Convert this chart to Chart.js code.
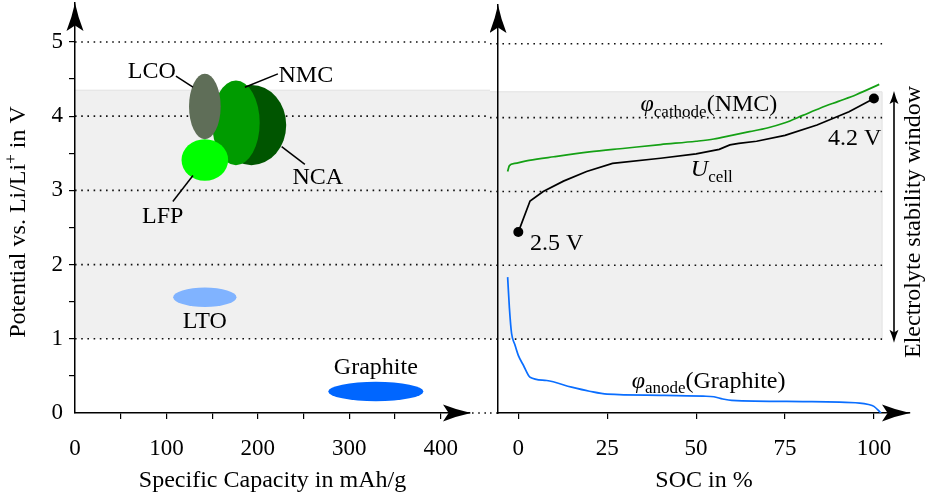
<!DOCTYPE html>
<html lang="en">
<head>
<meta charset="UTF-8">
<title>Electrode potentials and cell voltage</title>
<script src="https://cdn.jsdelivr.net/npm/chart.js"></script>
<style>
  body { margin: 0; background: #fff; }
  #wrap { position: relative; width: 925px; height: 499px; }
  canvas { position: absolute; top: 0; }
  #left { left: 0; }
  #right { left: 490px; }
</style>
</head>
<body>
<div id="wrap">
  <canvas id="left" width="490" height="499"></canvas>
  <canvas id="right" width="435" height="499"></canvas>
</div>
<script>
// ---- data ----
// electrode materials: centre and spread (half width) in capacity / potential
const materials = ['NCA', 'NMC', 'LCO', 'LFP', 'LTO', 'Graphite'];
const matCapacity = [193, 176, 142, 142, 142, 329];
const matPotential = [3.88, 3.91, 4.13, 3.41, 1.56, 0.29];
const matCapSpread = [38, 26, 17.3, 25.5, 34.6, 52];
const matPotSpread = [0.54, 0.57, 0.44, 0.28, 0.13, 0.13];
const matColors = ['rgb(0,85,0)', 'rgb(0,155,0)', 'rgb(95,110,88)', 'rgb(0,255,0)', 'rgb(128,179,255)', 'rgb(0,102,255)'];

const capTicks = [0, 50, 100, 150, 200, 250, 300, 350, 400];
const potTicks = [0, 0.5, 1, 1.5, 2, 2.5, 3, 3.5, 4, 4.5, 5];
const socTicks = [0, 25, 50, 75, 100];
const gridLevels = [1, 2, 3, 4, 5];

// electrolyte stability window (V)
const windowLow = 1.0;
const windowHigh = 4.35;

// curves over SOC in %
const socCathode = [-3, -2.5, -1, 3, 10, 20, 30, 40, 50, 55, 60, 65, 70, 75, 80, 85, 90, 95, 101.5];
const vCathode = [3.27, 3.35, 3.38, 3.42, 3.47, 3.535, 3.585, 3.635, 3.68, 3.71, 3.76, 3.81, 3.86, 3.93, 4.03, 4.13, 4.22, 4.31, 4.45];

const socCell = [0, 3.3, 7, 12.7, 19.2, 26.5, 40, 50, 56.5, 59.5, 62, 67, 75, 84, 93, 100];
const vCell = [2.45, 2.87, 3.0, 3.14, 3.27, 3.38, 3.45, 3.51, 3.57, 3.63, 3.65, 3.68, 3.76, 3.9, 4.08, 4.26];

const socAnode = [-3, -2.5, -1.9, -1, 0, 1.5, 3.3, 8, 15, 20, 25, 40, 52, 55, 57.5, 60, 80, 96, 98.5, 100, 102];
const vAnode = [1.84, 1.42, 1.08, 0.93, 0.78, 0.64, 0.485, 0.44, 0.35, 0.295, 0.255, 0.24, 0.228, 0.22, 0.19, 0.17, 0.155, 0.135, 0.115, 0.09, 0.0];

Chart.defaults.font.family = "'Liberation Serif', serif";
Chart.defaults.font.size = 23;
Chart.defaults.color = '#000';

const FONT = '"Liberation Serif", serif';

// text with sub/superscripts, parts = [[text, style]]
function richText(ctx, parts, x, y, align) {
  const fontFor = s => s === 'i' ? 'italic 24px ' + FONT : (s === 'sub' || s === 'sup') ? '17px ' + FONT : '24px ' + FONT;
  let w = 0;
  parts.forEach(p => { ctx.font = fontFor(p[1]); w += ctx.measureText(p[0]).width; });
  let cx = align === 'left' ? x : align === 'right' ? x - w : x - w / 2;
  ctx.textAlign = 'left';
  ctx.textBaseline = 'middle';
  parts.forEach(p => {
    ctx.font = fontFor(p[1]);
    const dy = p[1] === 'sub' ? 7 : p[1] === 'sup' ? -7 : 0;
    ctx.fillText(p[0], cx, y + dy);
    cx += ctx.measureText(p[0]).width;
  });
}

function stealth(ctx, tx, ty, dx, dy, len, half) {
  const px = -dy, py = dx;
  const bx = tx - dx * len, by = ty - dy * len;
  const nx = tx - dx * len * 0.8, ny = ty - dy * len * 0.8;
  const mx = tx - dx * len * 0.5, my = ty - dy * len * 0.5;
  ctx.beginPath();
  ctx.moveTo(tx, ty);
  ctx.quadraticCurveTo(mx + px * half * 0.35, my + py * half * 0.35, bx + px * half, by + py * half);
  ctx.lineTo(nx, ny);
  ctx.lineTo(bx - px * half, by - py * half);
  ctx.quadraticCurveTo(mx - px * half * 0.35, my - py * half * 0.35, tx, ty);
  ctx.closePath();
  ctx.fill();
}

function dottedLine(ctx, x1, x2, y) {
  ctx.save();
  ctx.strokeStyle = '#111';
  ctx.lineWidth = 1.6;
  ctx.setLineDash([1.6, 4.6]);
  ctx.beginPath();
  ctx.moveTo(x1, y);
  ctx.lineTo(x2, y);
  ctx.stroke();
  ctx.restore();
}

function drawBand(ctx, x1, x2, y, closeRight) {
  const yTop = y.getPixelForValue(windowHigh), yBot = y.getPixelForValue(windowLow);
  ctx.fillStyle = '#f0f0f0';
  ctx.fillRect(x1, yTop, x2 - x1, yBot - yTop);
  ctx.strokeStyle = '#e2e2e2';
  ctx.lineWidth = 1;
  ctx.beginPath();
  ctx.moveTo(x1, yTop);
  ctx.lineTo(x2, yTop);
  if (closeRight) ctx.lineTo(x2, yBot);
  ctx.stroke();
}

const tickColor = c => (c.tick && c.tick.value === 0) ? 'rgba(0,0,0,0)' : '#000';
// keep the plot area fixed: no extra room for overhanging tick labels
const noOverhang = s => { s.paddingTop = 0; s.paddingBottom = 0; s.paddingLeft = 0; s.paddingRight = 0; };

// ---- left panel: materials ----
const leftDeco = {
  id: 'leftDeco',
  beforeDraw(chart) {
    const { ctx, chartArea: a, scales: { y } } = chart;
    ctx.save();
    drawBand(ctx, a.left, chart.width, y, false);
    gridLevels.forEach(v => dottedLine(ctx, a.left, chart.width, y.getPixelForValue(v)));
    dottedLine(ctx, a.right + 2, chart.width, a.bottom);
    ctx.restore();
  },
  beforeDatasetsDraw(chart) {
    const { ctx, scales: { x, y } } = chart;
    ctx.save();
    materials.forEach((m, i) => {
      const cx = x.getPixelForValue(matCapacity[i]);
      const cy = y.getPixelForValue(matPotential[i]);
      const rx = x.getPixelForValue(matCapacity[i] + matCapSpread[i]) - cx;
      const ry = cy - y.getPixelForValue(matPotential[i] + matPotSpread[i]);
      ctx.fillStyle = matColors[i];
      ctx.beginPath();
      ctx.ellipse(cx, cy, rx, ry, 0, 0, Math.PI * 2);
      ctx.fill();
    });
    ctx.restore();
  },
  afterDraw(chart) {
    const { ctx, chartArea: a, scales: { x, y } } = chart;
    const px = (c, v) => [x.getPixelForValue(c), y.getPixelForValue(v)];
    ctx.save();
    ctx.fillStyle = '#000';
    stealth(ctx, a.left, a.top, 0, -1, 28, 8.5);
    stealth(ctx, a.right + 1, a.bottom, 1, 0, 28, 8.5);

    // leader lines
    const leaders = [[110.4, 4.54, 129, 4.39], [221.9, 4.57, 185.8, 4.39], [226, 3.59, 251.4, 3.35], [129, 3.2, 107, 2.85]];
    ctx.strokeStyle = '#000';
    ctx.lineWidth = 1.5;
    leaders.forEach(l => {
      const p1 = px(l[0], l[1]), p2 = px(l[2], l[3]);
      ctx.beginPath();
      ctx.moveTo(p1[0], p1[1]);
      ctx.lineTo(p2[0], p2[1]);
      ctx.stroke();
    });

    // material names
    const tagAt = { LCO: [84, 4.6], NMC: [252.5, 4.54], NCA: [265.6, 3.17], LFP: [96, 2.64], LTO: [142, 1.23], Graphite: [329, 0.61] };
    materials.forEach(m => {
      const p = px(tagAt[m][0], tagAt[m][1]);
      richText(ctx, [[m, 'n']], p[0], p[1], 'center');
    });

    // y axis title
    ctx.translate(19, 222);
    ctx.rotate(-Math.PI / 2);
    richText(ctx, [['Potential vs. Li/Li', 'n'], ['+', 'sup'], [' in V', 'n']], 0, 0, 'center');
    ctx.restore();
  }
};

new Chart(document.getElementById('left'), {
  type: 'scatter',
  data: {
    datasets: [{
      label: 'Materials',
      data: materials.map((m, i) => ({ x: matCapacity[i], y: matPotential[i] })),
      pointRadius: 0
    }]
  },
  options: {
    responsive: false,
    animation: false,
    devicePixelRatio: 1,
    layout: { padding: { top: 3, right: 20, left: 0, bottom: 0 } },
    plugins: { legend: { display: false }, tooltip: { enabled: false } },
    scales: {
      x: {
        type: 'linear', min: 0, max: 432,
        afterBuildTicks: s => { s.ticks = capTicks.map(v => ({ value: v })); },
        afterFit: s => { s.height = 86; noOverhang(s); },
        ticks: { autoSkip: false, maxRotation: 0, padding: 16, callback: v => v % 100 === 0 ? v : '' },
        grid: { drawOnChartArea: false, tickLength: 6, color: tickColor, lineWidth: 1.2 },
        border: { color: '#000', width: 1.5 },
        title: { display: true, text: 'Specific Capacity in mAh/g', font: { size: 24 } }
      },
      y: {
        type: 'linear', min: 0, max: 5.525,
        afterBuildTicks: s => { s.ticks = potTicks.map(v => ({ value: v })); },
        afterFit: s => { s.width = 75; noOverhang(s); },
        ticks: { autoSkip: false, padding: 6, callback: v => Number.isInteger(v) ? v : '' },
        grid: { drawOnChartArea: false, tickLength: 6, color: tickColor, lineWidth: 1.2 },
        border: { color: '#000', width: 1.5 }
      }
    }
  },
  plugins: [leftDeco]
});

// ---- right panel: cell during charge ----
const rightDeco = {
  id: 'rightDeco',
  beforeDraw(chart) {
    const { ctx, chartArea: a, scales: { x, y } } = chart;
    const xEnd = x.getPixelForValue(102.3);
    ctx.save();
    drawBand(ctx, 0, xEnd, y, true);
    gridLevels.forEach(v => dottedLine(ctx, 0, xEnd, y.getPixelForValue(v)));
    dottedLine(ctx, 0, a.left, a.bottom);
    ctx.restore();
  },
  afterDraw(chart) {
    const { ctx, chartArea: a, scales: { x, y } } = chart;
    const px = (s, v) => [x.getPixelForValue(s), y.getPixelForValue(v)];
    ctx.save();
    ctx.fillStyle = '#000';
    stealth(ctx, a.left, a.top, 0, -1, 28, 8.5);
    stealth(ctx, a.right, a.bottom, 1, 0, 28, 8.5);

    // electrolyte stability window arrow
    const ax = x.getPixelForValue(105.65);
    const yHi = y.getPixelForValue(4.36), yLo = y.getPixelForValue(0.95);
    ctx.strokeStyle = '#000';
    ctx.lineWidth = 1.6;
    ctx.beginPath();
    ctx.moveTo(ax, yHi + 8);
    ctx.lineTo(ax, yLo - 8);
    ctx.stroke();
    stealth(ctx, ax, yHi, 0, -1, 13, 4.5);
    stealth(ctx, ax, yLo, 0, 1, 13, 4.5);

    // curve labels
    let p = px(3.3, 2.29);
    richText(ctx, [['2.5 V', 'n']], p[0], p[1], 'left');
    p = px(94.6, 3.71);
    richText(ctx, [['4.2 V', 'n']], p[0], p[1], 'center');
    p = px(54.4, 3.29);
    richText(ctx, [['U', 'i'], ['cell', 'sub']], p[0], p[1], 'center');
    p = px(53.6, 4.17);
    richText(ctx, [['φ', 'i'], ['cathode', 'sub'], ['(NMC)', 'n']], p[0], p[1], 'center');
    p = px(53.5, 0.43);
    richText(ctx, [['φ', 'i'], ['anode', 'sub'], ['(Graphite)', 'n']], p[0], p[1], 'center');

    ctx.translate(424, 222);
    ctx.rotate(-Math.PI / 2);
    richText(ctx, [['Electrolyte stability window', 'n']], 0, 0, 'center');
    ctx.restore();
  }
};

new Chart(document.getElementById('right'), {
  type: 'line',
  data: {
    datasets: [
      {
        label: 'φ cathode (NMC)',
        data: socCathode.map((s, i) => ({ x: s, y: vCathode[i] })),
        borderColor: 'rgb(20,160,20)', borderWidth: 1.7, pointRadius: 0,
        cubicInterpolationMode: 'monotone'
      },
      {
        label: 'U cell',
        data: socCell.map((s, i) => ({ x: s, y: vCell[i] })),
        borderColor: '#000', borderWidth: 1.7, tension: 0,
        pointRadius: c => (c.dataIndex === 0 || c.dataIndex === socCell.length - 1) ? 5 : 0,
        pointBackgroundColor: '#000', pointBorderWidth: 0
      },
      {
        label: 'φ anode (Graphite)',
        data: socAnode.map((s, i) => ({ x: s, y: vAnode[i] })),
        borderColor: 'rgb(10,110,255)', borderWidth: 1.7, pointRadius: 0,
        cubicInterpolationMode: 'monotone'
      }
    ]
  },
  options: {
    responsive: false,
    animation: false,
    devicePixelRatio: 1,
    layout: { padding: { top: 3, right: 15, left: 0, bottom: 0 } },
    plugins: { legend: { display: false }, tooltip: { enabled: false } },
    scales: {
      x: {
        type: 'linear', min: -5.71, max: 110.15,
        afterBuildTicks: s => { s.ticks = socTicks.map(v => ({ value: v })); },
        afterFit: s => { s.height = 86; noOverhang(s); },
        ticks: { autoSkip: false, maxRotation: 0, padding: 16 },
        grid: { drawOnChartArea: false, tickLength: 6, color: '#000', lineWidth: 1.2 },
        border: { color: '#000', width: 1.5 },
        title: { display: true, text: 'SOC in %', font: { size: 24 } }
      },
      y: {
        type: 'linear', min: 0, max: 5.525,
        afterFit: s => { s.width = 8; noOverhang(s); },
        ticks: { display: false },
        grid: { display: false },
        border: { color: '#000', width: 1.5 }
      }
    }
  },
  plugins: [rightDeco]
});
</script>
</body>
</html>
